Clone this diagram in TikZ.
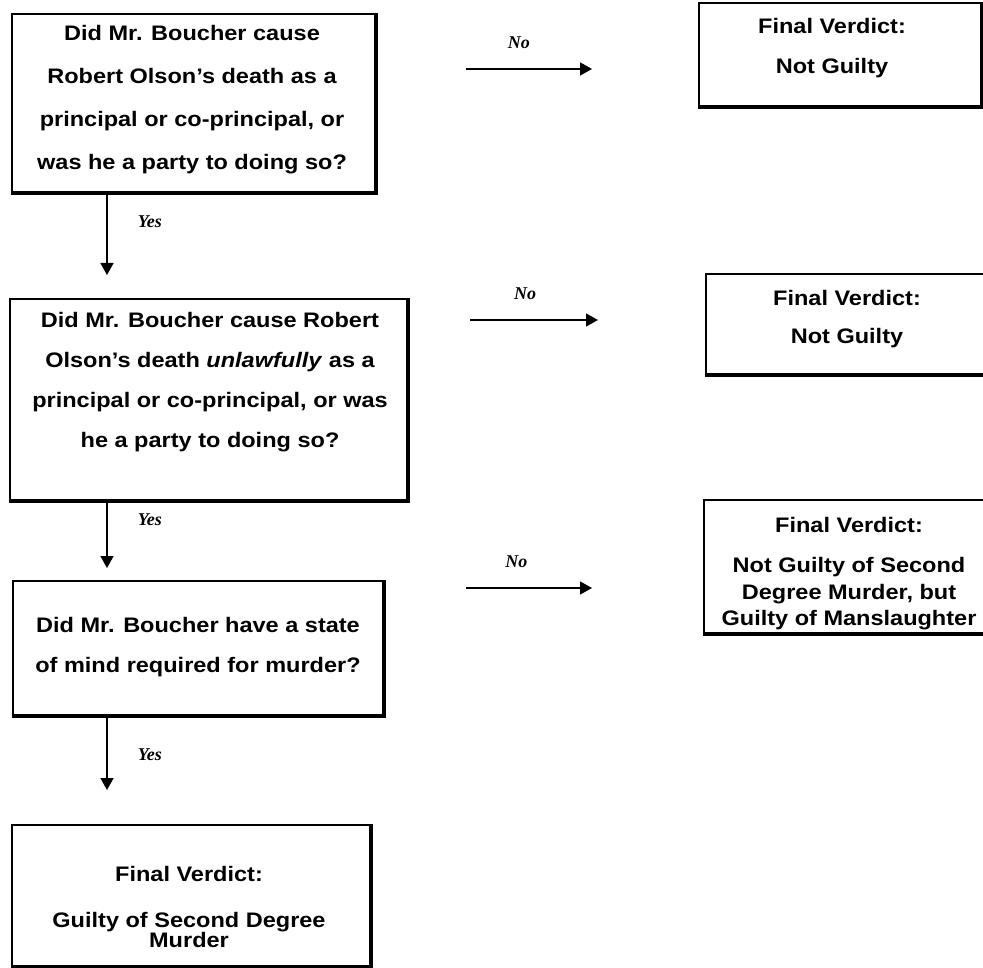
\documentclass[tikz,border=0pt]{standalone}
\usepackage{fontspec}
\setmainfont{Liberation Sans}[FakeStretch=1.12]
\newfontfamily\answerfont{Liberation Serif}
\usetikzlibrary{arrows.meta}

\tikzset{
  box/.style={draw, line width=0.8pt, inner sep=0pt},
  boxtext/.style={align=center, inner sep=0pt, font=\bfseries\fontsize{10.5}{#1}\selectfont},
  boxtext/.default=20pt,
  shadowedge/.style={line width=1.8pt},
  flow/.style={line width=0.8pt, -{Triangle[length=6pt,width=6.5pt]}},
  answer/.style={inner sep=0pt, font=\answerfont\bfseries\itshape\fontsize{9}{11}\selectfont},
}

\begin{document}
\begin{tikzpicture}[x=0.5pt,y=-0.5pt]
          \useasboundingbox (0,0) rectangle (983,967);
          % question boxes, left column
          \node[box, minimum width=181.5pt, minimum height=89pt] (q1) at (193.5,103) {};
          \node[box, minimum width=198.5pt, minimum height=100.5pt] (q2) at (208.5,399.5) {};
          \node[box, minimum width=185pt, minimum height=67pt] (q3) at (198,648) {};
          \node[box, minimum width=179pt, minimum height=70.5pt] (v4) at (191,895.5) {};
          % verdict boxes, right column
          \node[box, minimum width=141pt, minimum height=51.5pt] (v1) at (840,54.5) {};
          \node[box, minimum width=141pt, minimum height=50pt] (v2) at (847,324) {};
          \node[box, minimum width=142pt, minimum height=66.5pt] (v3) at (846,566.5) {};
          \foreach \b in {q1,q2,q3,v4,v1,v2,v3}
            \draw[shadowedge] (\b.north east) -- (\b.south east) -- (\b.south west);
          % texts
          \node[boxtext=21.5pt] (q1t) at (192,100) {Did Mr. Boucher cause\\Robert Olson’s death as a\\principal or co-principal, or\\was he a party to doing so?};
          \node[boxtext] (q2t) at (210,382) {Did Mr. Boucher cause Robert\\Olson’s death \textit{unlawfully} as a\\principal or co-principal, or was\\he a party to doing so?};
          \node[boxtext] (q3t) at (198,647) {Did Mr. Boucher have a state\\of mind required for murder?};
          \node[boxtext=10pt] (v4t) at (189,907) {Final Verdict:\\[13pt]Guilty of Second Degree\\Murder};
          \node[boxtext] (v1t) at (832,48) {Final Verdict:\\Not Guilty};
          \node[boxtext=19pt] (v2t) at (847,319) {Final Verdict:\\Not Guilty};
          \node[boxtext=13.3pt] (v3t) at (849,574) {Final Verdict:\\[6.5pt]Not Guilty of Second\\Degree Murder, but\\Guilty of Manslaughter};
          % free ends of the arrows
          \coordinate (spine) at (107,0);
          \coordinate (y1e) at (107,275);
          \coordinate (y2e) at (107,568);
          \coordinate (y3e) at (107,790);
          \coordinate (n1s) at (466,69);
          \coordinate (n1e) at (592,69);
          \coordinate (n2s) at (470,320);
          \coordinate (n2e) at (598,320);
          \coordinate (n3s) at (466,588);
          \coordinate (n3e) at (592,588);
          % yes arrows
          \draw[flow] (q1.south -| spine) -- (y1e) node[answer, pos=.35, right=15pt] (yes1) {Yes};
          \draw[flow] (q2.south -| spine) -- (y2e) node[answer, pos=.28, right=15pt] (yes2) {Yes};
          \draw[flow] (q3.south -| spine) -- (y3e) node[answer, pos=.53, right=15pt] (yes3) {Yes};
          % no arrows
          \draw[flow] (n1s) -- (n1e) node[answer, pos=.42, above=10pt] (no1) {No};
          \draw[flow] (n2s) -- (n2e) node[answer, pos=.43, above=10pt] (no2) {No};
          \draw[flow] (n3s) -- (n3e) node[answer, pos=.40, above=10pt] (no3) {No};
\end{tikzpicture}
\end{document}
